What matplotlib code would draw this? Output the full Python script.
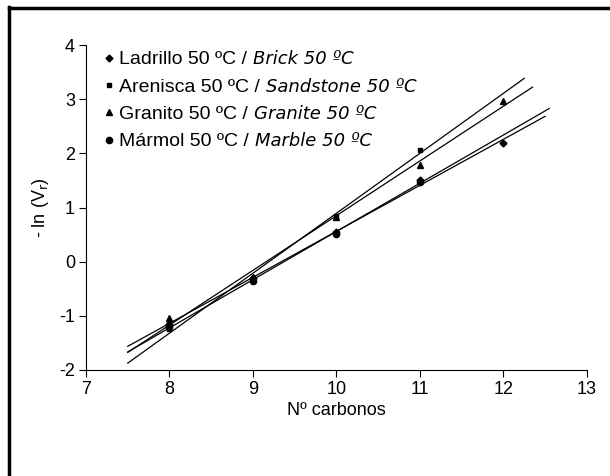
import numpy as np
import matplotlib
matplotlib.use("Agg")
import matplotlib.pyplot as plt
from matplotlib.lines import Line2D

# ---- data ----
carbonos = [8, 9, 10, 11, 12]
ladrillo = [-1.15, -0.30, 0.55, 1.50, 2.20]
arenisca = [-1.25, -0.30, 0.85, 2.06]
granito = [-1.05, -0.28, 0.82, 1.79, 2.97]
marmol = [-1.20, -0.35, 0.52, 1.48]

labels_es = ["Ladrillo 50 ºC / ", "Arenisca 50 ºC / ", "Granito 50 ºC / ", "Mármol 50 ºC / "]
labels_en = ["Brick 50 ºC", "Sandstone 50 ºC", "Granite 50 ºC", "Marble 50 ºC"]
series = [ladrillo, arenisca, granito, marmol]
markers = ["D", "s", "^", "o"]
msizes = [3.5, 3.5, 4.5, 4.5]
# trendline extent (x start, x end)
trend_range = [(7.5, 12.5), (7.5, 12.25), (7.5, 12.35), (7.5, 12.55)]

plt.rcParams["font.family"] = ["Liberation Sans", "DejaVu Sans"]
plt.rcParams["axes.unicode_minus"] = False

fig = plt.figure(figsize=(6.10, 4.76), dpi=100)
ax = fig.add_axes([0.141, 0.223, 0.821, 0.682])

for ys, lab, mk, ms, (x0, x1) in zip(series, labels_es, markers, msizes, trend_range):
    xs = carbonos[:len(ys)]
    ax.plot(xs, ys, linestyle="none", marker=mk, markersize=ms, color="black", label=lab)
    # linear trendline
    m, b = np.polyfit(xs, ys, 1)
    xx = np.array([x0, x1])
    ax.plot(xx, m * xx + b, color="black", linewidth=0.9)

ax.set_xlim(7, 13)
ax.set_ylim(-2, 4)
ax.set_xticks(range(7, 14))
ax.set_yticks(range(-2, 5))
ax.spines["top"].set_visible(False)
ax.spines["right"].set_visible(False)
ax.spines["left"].set_linewidth(0.8)
ax.spines["bottom"].set_linewidth(0.8)
ax.tick_params(direction="out", length=5, width=0.8, labelsize=13, pad=3)
ax.set_xlabel("Nº carbonos", fontsize=13, labelpad=3)
ax.set_ylabel("- ln (V$_\\mathrm{r}$)", fontsize=13, labelpad=6)

leg = ax.legend(loc="upper left", bbox_to_anchor=(0.01, 1.025), frameon=False,
                fontsize=14, handlelength=0.4, handletextpad=0.35,
                labelspacing=0.5, borderaxespad=0.3)

# English part of each legend entry, in italics, right after the Spanish text
fig.canvas.draw()
inv = fig.transFigure.inverted()
for txt, en in zip(leg.get_texts(), labels_en):
    bb = txt.get_window_extent()
    fx, fy = inv.transform((bb.x1 + 1, bb.y0))
    fig.text(fx, fy, en, ha="left", va="bottom", fontsize=13,
             fontstyle="italic", family="DejaVu Sans")

# outer frame (top and left edges visible in the picture)
fig.add_artist(Line2D([0.014, 1.0], [0.984, 0.984], transform=fig.transFigure,
                      color="black", linewidth=2.5))
fig.add_artist(Line2D([0.015, 0.015], [0.0, 0.985], transform=fig.transFigure,
                      color="black", linewidth=2.5))

fig.savefig("out.png", dpi=100)
